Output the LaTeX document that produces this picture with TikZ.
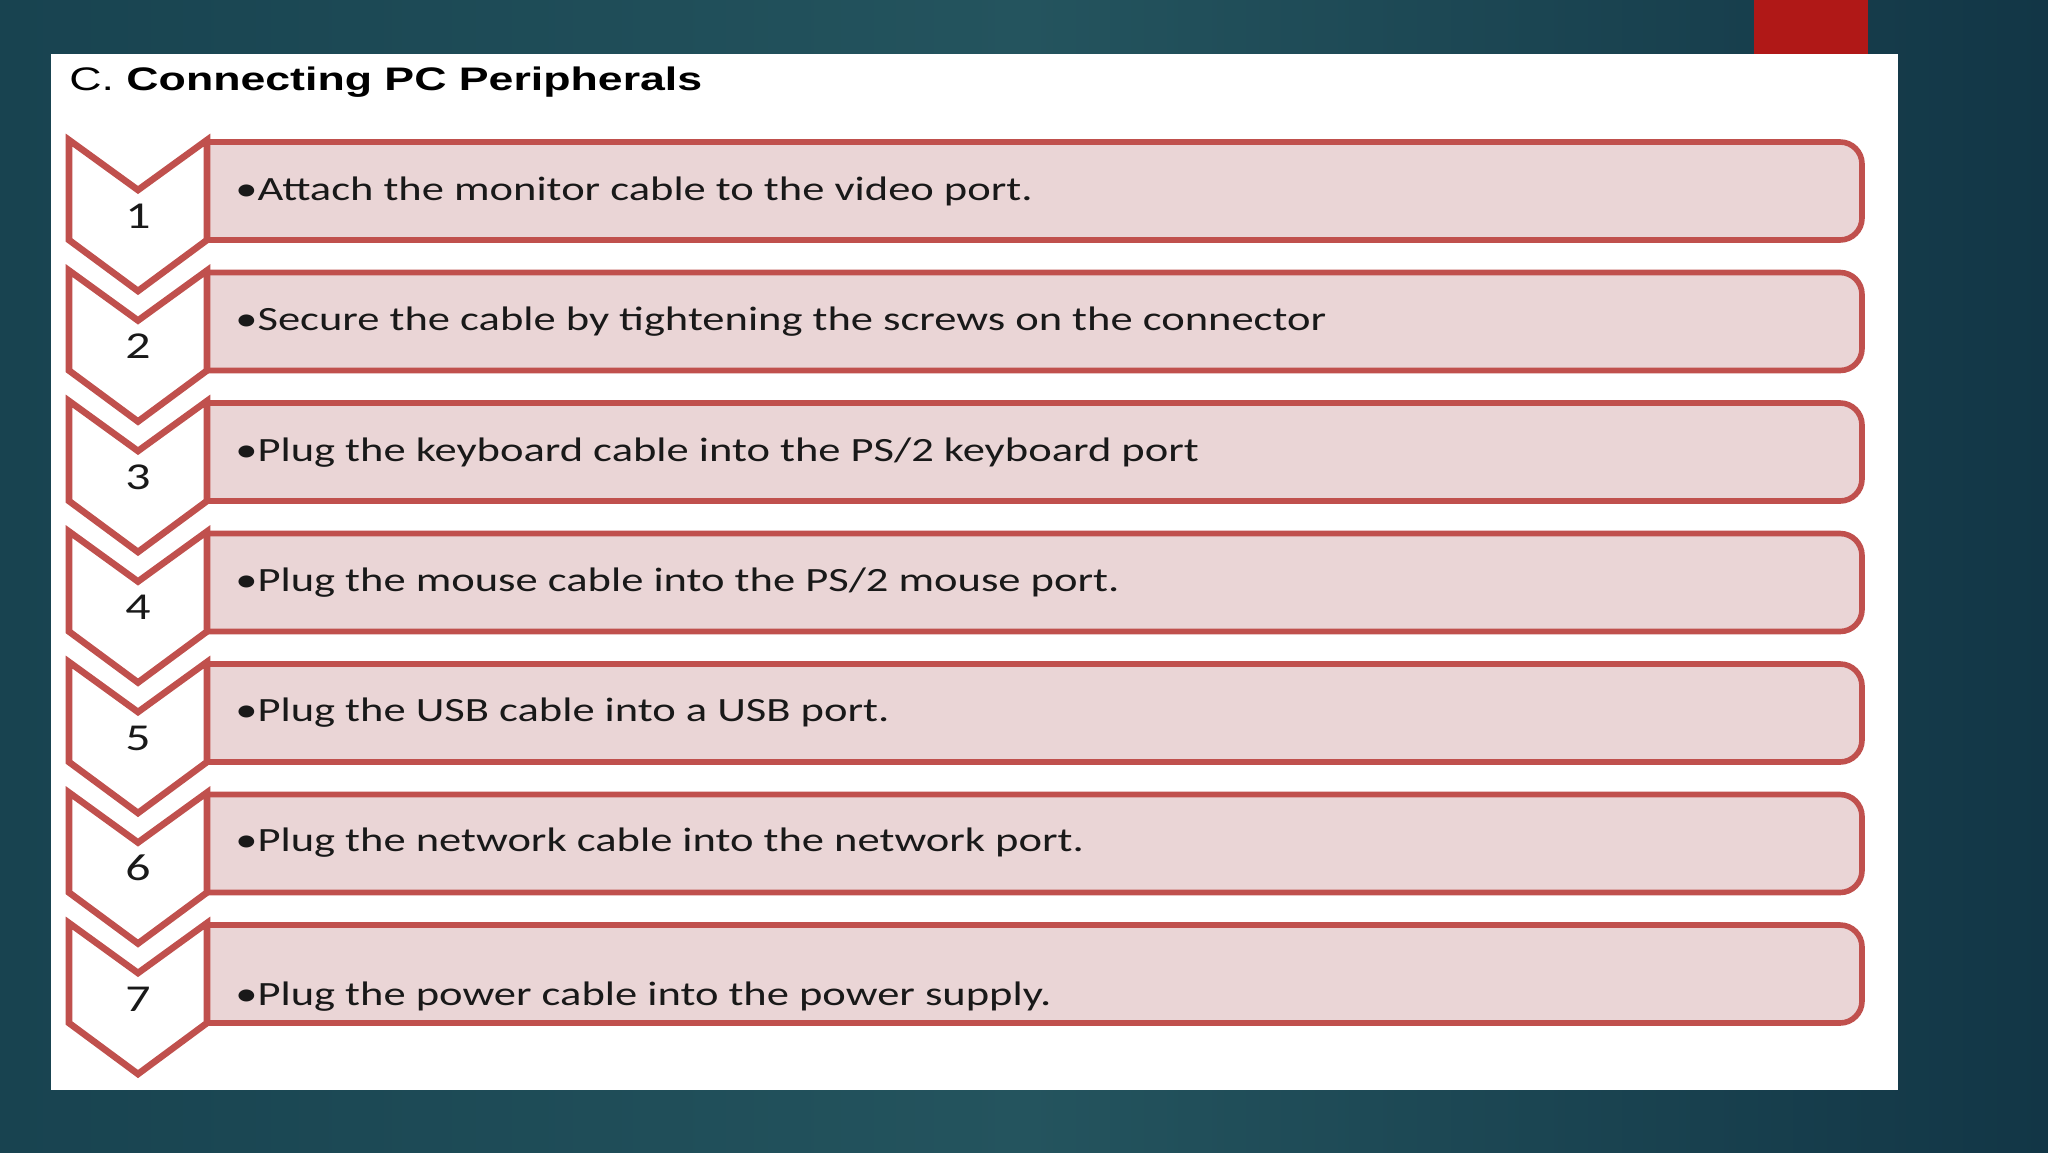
\documentclass[tikz,border=0pt]{standalone}
\usepackage{fontspec}
\setmainfont{Carlito}
\newfontfamily\titlefont{Liberation Sans}
\newcommand{\widetxt}[1]{\scalebox{1.31}[1]{#1}}
\definecolor{bgL}{HTML}{184350}
\definecolor{bgM}{HTML}{24545E}
\definecolor{bgR}{HTML}{123646}
\definecolor{accentred}{HTML}{B01817}
\definecolor{boxline}{HTML}{C0504D}
\definecolor{boxfill}{HTML}{EAD5D6}
\tikzset{
  chev/.style={draw=boxline, fill=white, line width=3.3pt, line join=miter},
  stepbox/.style={draw=boxline, fill=boxfill, line width=2.8pt},
  steptext/.style={anchor=base west, inner sep=0pt, font=\fontsize{17}{20}\selectfont, text=black!90},
  stepnum/.style={anchor=base, inner sep=0pt, font=\fontsize{19}{22}\selectfont, text=black!90},
}
\begin{document}
\begin{tikzpicture}[x=0.5pt, y=-0.5pt]
\useasboundingbox (0,0) rectangle (2048,1152);
\shade[left color=bgL, right color=bgR, middle color=bgM] (0,0) rectangle (2048,1152);
\fill[accentred] (1754,0) rectangle (1868,54);
\fill[white] (51,54) rectangle (1898,1090);
\node[anchor=base west, inner sep=0pt, font=\titlefont\fontsize{16.3}{20}\selectfont] (title) at (69,90) {\scalebox{1.37}[1]{C. \textbf{Connecting PC Peripherals}}};
\foreach \k/\T/\txt/\dy in {
  1/140/{Attach the monitor cable to the video port.}/60,
  2/270.5/{Secure the cable by tightening the screws on the connector}/60,
  3/401/{Plug the keyboard cable into the PS/2 keyboard port}/60,
  4/531.5/{Plug the mouse cable into the PS/2 mouse port.}/60,
  5/662/{Plug the USB cable into a USB port.}/59,
  6/792.5/{Plug the network cable into the network port.}/59,
  7/923/{Plug the power cable into the power supply.}/82}{
  \draw[stepbox] (207,\T+2) -- (1840,\T+2) arc[start angle=90, end angle=0, radius=11pt] -- (1862,\T+78) arc[start angle=0, end angle=-90, radius=11pt] -- (207,\T+100) -- cycle;
  \node[steptext] (t\k) at (235,\T+\dy) {\widetxt{\textbullet\txt}};
  \draw[chev] (69,\T) -- (138,\T+50) -- (207,\T) -- (207,\T+100) -- (138,\T+151) -- (69,\T+100) -- cycle;
  \node[stepnum] (n\k) at (138,\T+88) {\widetxt{\k}};
}
\end{tikzpicture}
\end{document}
